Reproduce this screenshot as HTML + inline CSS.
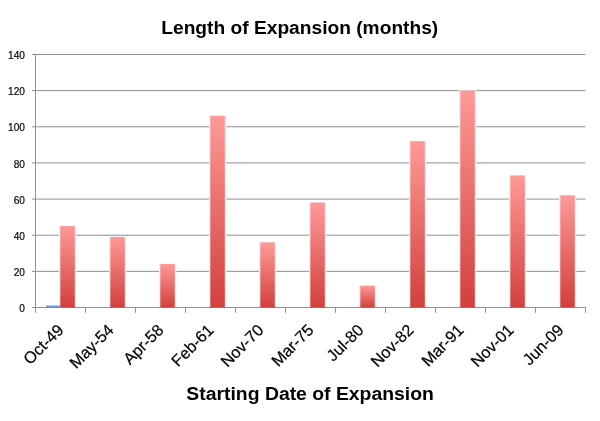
<!DOCTYPE html>
<html><head><meta charset="utf-8"><title>Length of Expansion (months)</title>
<style>html,body{margin:0;padding:0;background:#fff}svg{display:block}text{font-family:"Liberation Sans",sans-serif;fill:#000}</style></head>
<body>
<svg width="600" height="421" viewBox="0 0 600 421">
<defs><linearGradient id="g" x1="0" y1="0" x2="0" y2="1"><stop offset="0" stop-color="#ff9997"/><stop offset="1" stop-color="#d2403c"/></linearGradient></defs>
<rect width="600" height="421" fill="#fff"/>
<line x1="32.0" y1="307.50" x2="585.5" y2="307.50" stroke="#909090" stroke-width="1"/>
<text transform="translate(24.9,312.10) scale(1.1,1.12)" font-size="9.2" text-anchor="end" stroke="#000" stroke-width="0.15">0</text>
<line x1="32.0" y1="271.36" x2="585.5" y2="271.36" stroke="#909090" stroke-width="1"/>
<text transform="translate(24.9,275.96) scale(1.1,1.12)" font-size="9.2" text-anchor="end" stroke="#000" stroke-width="0.15">20</text>
<line x1="32.0" y1="235.21" x2="585.5" y2="235.21" stroke="#909090" stroke-width="1"/>
<text transform="translate(24.9,239.81) scale(1.1,1.12)" font-size="9.2" text-anchor="end" stroke="#000" stroke-width="0.15">40</text>
<line x1="32.0" y1="199.07" x2="585.5" y2="199.07" stroke="#909090" stroke-width="1"/>
<text transform="translate(24.9,203.67) scale(1.1,1.12)" font-size="9.2" text-anchor="end" stroke="#000" stroke-width="0.15">60</text>
<line x1="32.0" y1="162.93" x2="585.5" y2="162.93" stroke="#909090" stroke-width="1"/>
<text transform="translate(24.9,167.53) scale(1.1,1.12)" font-size="9.2" text-anchor="end" stroke="#000" stroke-width="0.15">80</text>
<line x1="32.0" y1="126.79" x2="585.5" y2="126.79" stroke="#909090" stroke-width="1"/>
<text transform="translate(24.9,131.39) scale(1.1,1.12)" font-size="9.2" text-anchor="end" stroke="#000" stroke-width="0.15">100</text>
<line x1="32.0" y1="90.64" x2="585.5" y2="90.64" stroke="#909090" stroke-width="1"/>
<text transform="translate(24.9,95.24) scale(1.1,1.12)" font-size="9.2" text-anchor="end" stroke="#000" stroke-width="0.15">120</text>
<line x1="32.0" y1="54.50" x2="585.5" y2="54.50" stroke="#909090" stroke-width="1"/>
<text transform="translate(24.9,59.10) scale(1.1,1.12)" font-size="9.2" text-anchor="end" stroke="#000" stroke-width="0.15">140</text>
<line x1="35.5" y1="54.5" x2="35.5" y2="307.5" stroke="#909090"/>
<line x1="32.0" y1="307.5" x2="585.5" y2="307.5" stroke="#909090"/>
<rect x="59.00" y="225.78" width="17.4" height="81.12" fill="#eaf4f6"/>
<rect x="60.30" y="226.08" width="14.5" height="81.32" fill="url(#g)"/>
<rect x="109.00" y="236.62" width="17.4" height="70.28" fill="#eaf4f6"/>
<rect x="110.30" y="236.92" width="14.5" height="70.48" fill="url(#g)"/>
<rect x="159.00" y="263.73" width="17.4" height="43.17" fill="#eaf4f6"/>
<rect x="160.30" y="264.03" width="14.5" height="43.37" fill="url(#g)"/>
<rect x="209.00" y="115.54" width="17.4" height="191.36" fill="#eaf4f6"/>
<rect x="210.30" y="115.84" width="14.5" height="191.56" fill="url(#g)"/>
<rect x="259.00" y="242.04" width="17.4" height="64.86" fill="#eaf4f6"/>
<rect x="260.30" y="242.34" width="14.5" height="65.06" fill="url(#g)"/>
<rect x="309.00" y="202.29" width="17.4" height="104.61" fill="#eaf4f6"/>
<rect x="310.30" y="202.59" width="14.5" height="104.81" fill="url(#g)"/>
<rect x="359.00" y="285.41" width="17.4" height="21.49" fill="#eaf4f6"/>
<rect x="360.30" y="285.71" width="14.5" height="21.69" fill="url(#g)"/>
<rect x="409.00" y="140.84" width="17.4" height="166.06" fill="#eaf4f6"/>
<rect x="410.30" y="141.14" width="14.5" height="166.26" fill="url(#g)"/>
<rect x="459.00" y="90.24" width="17.4" height="216.66" fill="#eaf4f6"/>
<rect x="460.30" y="90.54" width="14.5" height="216.86" fill="url(#g)"/>
<rect x="509.00" y="175.18" width="17.4" height="131.72" fill="#eaf4f6"/>
<rect x="510.30" y="175.48" width="14.5" height="131.92" fill="url(#g)"/>
<rect x="559.00" y="195.06" width="17.4" height="111.84" fill="#eaf4f6"/>
<rect x="560.30" y="195.36" width="14.5" height="112.04" fill="url(#g)"/>
<rect x="46" y="305.6" width="14.3" height="1.7" fill="#6496dc"/>
<line x1="35.50" y1="307.5" x2="35.50" y2="312.8" stroke="#909090"/>
<line x1="85.50" y1="307.5" x2="85.50" y2="312.8" stroke="#909090"/>
<line x1="135.50" y1="307.5" x2="135.50" y2="312.8" stroke="#909090"/>
<line x1="185.50" y1="307.5" x2="185.50" y2="312.8" stroke="#909090"/>
<line x1="235.50" y1="307.5" x2="235.50" y2="312.8" stroke="#909090"/>
<line x1="285.50" y1="307.5" x2="285.50" y2="312.8" stroke="#909090"/>
<line x1="335.50" y1="307.5" x2="335.50" y2="312.8" stroke="#909090"/>
<line x1="385.50" y1="307.5" x2="385.50" y2="312.8" stroke="#909090"/>
<line x1="435.50" y1="307.5" x2="435.50" y2="312.8" stroke="#909090"/>
<line x1="485.50" y1="307.5" x2="485.50" y2="312.8" stroke="#909090"/>
<line x1="535.50" y1="307.5" x2="535.50" y2="312.8" stroke="#909090"/>
<line x1="585.50" y1="307.5" x2="585.50" y2="312.8" stroke="#909090"/>
<text font-size="16.3" stroke="#000" stroke-width="0.18" text-anchor="end" transform="translate(64.60,331) rotate(-45)">Oct-49</text>
<text font-size="16.3" stroke="#000" stroke-width="0.18" text-anchor="end" transform="translate(114.60,331) rotate(-45)">May-54</text>
<text font-size="16.3" stroke="#000" stroke-width="0.18" text-anchor="end" transform="translate(164.60,331) rotate(-45)">Apr-58</text>
<text font-size="16.3" stroke="#000" stroke-width="0.18" text-anchor="end" transform="translate(214.60,331) rotate(-45)">Feb-61</text>
<text font-size="16.3" stroke="#000" stroke-width="0.18" text-anchor="end" transform="translate(264.60,331) rotate(-45)">Nov-70</text>
<text font-size="16.3" stroke="#000" stroke-width="0.18" text-anchor="end" transform="translate(314.60,331) rotate(-45)">Mar-75</text>
<text font-size="16.3" stroke="#000" stroke-width="0.18" text-anchor="end" transform="translate(364.60,331) rotate(-45)">Jul-80</text>
<text font-size="16.3" stroke="#000" stroke-width="0.18" text-anchor="end" transform="translate(414.60,331) rotate(-45)">Nov-82</text>
<text font-size="16.3" stroke="#000" stroke-width="0.18" text-anchor="end" transform="translate(464.60,331) rotate(-45)">Mar-91</text>
<text font-size="16.3" stroke="#000" stroke-width="0.18" text-anchor="end" transform="translate(514.60,331) rotate(-45)">Nov-01</text>
<text font-size="16.3" stroke="#000" stroke-width="0.18" text-anchor="end" transform="translate(564.60,331) rotate(-45)">Jun-09</text>
<text x="299.75" y="33.5" font-size="18.3" font-weight="bold" text-anchor="middle" textLength="277" lengthAdjust="spacingAndGlyphs">Length of Expansion (months)</text>
<text x="310.1" y="399.6" font-size="18.8" font-weight="bold" text-anchor="middle" textLength="247.5" lengthAdjust="spacingAndGlyphs">Starting Date of Expansion</text>
</svg>
</body></html>
